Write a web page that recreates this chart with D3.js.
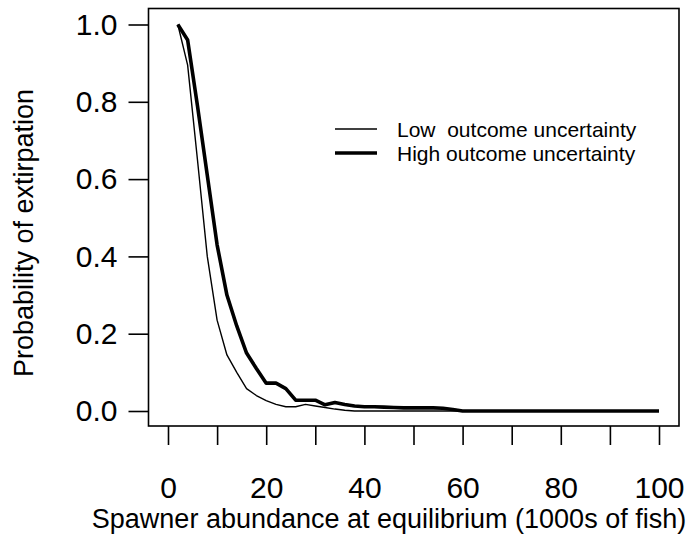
<!DOCTYPE html>
<html>
<head>
<meta charset="utf-8">
<script src="https://cdn.jsdelivr.net/npm/d3@7"></script>
<style>
    body { margin: 0; background: #fff; }
    svg { display: block; font-family: "Liberation Sans", Arial, sans-serif; }
    .axis-label { font-size: 27px; fill: #000; }
    .legend-text { font-size: 21px; fill: #000; white-space: pre; }
</style>
</head>
<body>
<div id="chart"></div>
<script>
// extirpation.js

// =============================
// Data
// =============================
const abundance = [2, 4, 6, 8, 10, 12, 14, 16, 18, 20, 22, 24, 26, 28, 30, 32, 34, 36, 38, 40,
    42, 44, 46, 48, 50, 52, 54, 56, 58, 60, 62, 64, 66, 68, 70, 72, 74, 76, 78, 80,
    82, 84, 86, 88, 90, 92, 94, 96, 98, 100];

const lowUncertainty = [1.0, 0.895, 0.65, 0.40, 0.235, 0.145, 0.10, 0.058, 0.04, 0.027,
    0.017, 0.011, 0.011, 0.017, 0.013, 0.009, 0.005, 0.002, 0, 0,
    0, 0, 0, 0, 0, 0, 0, 0, 0, 0,
    0, 0, 0, 0, 0, 0, 0, 0, 0, 0,
    0, 0, 0, 0, 0, 0, 0, 0, 0, 0];

const highUncertainty = [1.0, 0.96, 0.79, 0.61, 0.43, 0.30, 0.22, 0.15, 0.11, 0.072,
    0.072, 0.058, 0.028, 0.028, 0.028, 0.016, 0.022, 0.017, 0.013, 0.011,
    0.011, 0.01, 0.009, 0.008, 0.008, 0.008, 0.008, 0.007, 0.004, 0,
    0, 0, 0, 0, 0, 0, 0, 0, 0, 0,
    0, 0, 0, 0, 0, 0, 0, 0, 0, 0];

const xTicks = [0, 10, 20, 30, 40, 50, 60, 70, 80, 90, 100];
const xLabelled = [0, 20, 40, 60, 80, 100];
const yTicks = [0, 0.2, 0.4, 0.6, 0.8, 1.0];

const seriesNames = ["Low  outcome uncertainty", "High outcome uncertainty"];

// =============================
// Layout
// =============================
const width = 690;
const height = 535;
const box = { left: 148.5, right: 679, top: 8.5, bottom: 426 };

const svg = d3.select("#chart")
    .append("svg")
    .attr("width", width)
    .attr("height", height);

// =============================
// Scales
// =============================
const xScale = d3.scaleLinear()
    .domain([0, 100])
    .range([168, 659]);

const yScale = d3.scaleLinear()
    .domain([0, 1])
    .range([411, 24.5]);

// =============================
// Lines
// =============================
const lineGen = d3.line()
    .x((d, i) => xScale(abundance[i]))
    .y(d => yScale(d));

svg.append("path")
    .datum(lowUncertainty)
    .attr("d", lineGen)
    .attr("fill", "none")
    .attr("stroke", "#000")
    .attr("stroke-width", 1.4)
    .attr("stroke-linejoin", "round");

svg.append("path")
    .datum(highUncertainty)
    .attr("d", lineGen)
    .attr("fill", "none")
    .attr("stroke", "#000")
    .attr("stroke-width", 3.6)
    .attr("stroke-linejoin", "round");

// =============================
// Box
// =============================
svg.append("rect")
    .attr("x", box.left)
    .attr("y", box.top)
    .attr("width", box.right - box.left)
    .attr("height", box.bottom - box.top)
    .attr("fill", "none")
    .attr("stroke", "#000")
    .attr("stroke-width", 1.6);

// =============================
// Axes
// =============================
const bottomAxis = d3.axisBottom(xScale)
    .tickValues(xTicks)
    .tickFormat(d => xLabelled.includes(d) ? d : "")
    .tickSize(19)
    .tickSizeOuter(0)
    .tickPadding(32);

const xAxisG = svg.append("g")
    .attr("transform", `translate(0,${box.bottom})`)
    .call(bottomAxis);

// drop the empty labels of the unlabelled ticks
xAxisG.selectAll(".tick text")
    .filter(d => !xLabelled.includes(d))
    .remove();

const leftAxis = d3.axisLeft(yScale)
    .tickValues(yTicks)
    .tickFormat(d3.format(".1f"))
    .tickSize(20)
    .tickSizeOuter(0)
    .tickPadding(11);

const yAxisG = svg.append("g")
    .attr("transform", `translate(${box.left},0)`)
    .call(leftAxis);

[xAxisG, yAxisG].forEach(g => {
    g.select(".domain").remove();
    g.selectAll(".tick line").attr("stroke", "#000").attr("stroke-width", 1.6);
    g.selectAll(".tick text")
        .attr("fill", "#000")
        .style("font-size", "30px")
        .style("font-family", "'Liberation Sans', Arial, sans-serif");
});

svg.append("text")
    .text("Spawner abundance at equilibrium (1000s of fish)")
    .attr("class", "axis-label")
    .attr("text-anchor", "middle")
    .attr("x", 389)
    .attr("y", 528);

svg.append("text")
    .text("Probability of extirpation")
    .attr("class", "axis-label")
    .attr("text-anchor", "middle")
    .attr("transform", "translate(33,233) rotate(-90)");

// =============================
// Legend
// =============================
const legend = svg.append("g");
const legendY = [129, 153];
const legendWidths = [1.4, 3.6];

seriesNames.forEach((name, i) => {
    legend.append("line")
        .attr("x1", 335)
        .attr("x2", 377)
        .attr("y1", legendY[i])
        .attr("y2", legendY[i])
        .attr("stroke", "#000")
        .attr("stroke-width", legendWidths[i]);

    legend.append("text")
        .text(name)
        .attr("class", "legend-text")
        .attr("x", 397)
        .attr("y", legendY[i] + 7.5);
});
</script>
</body>
</html>
